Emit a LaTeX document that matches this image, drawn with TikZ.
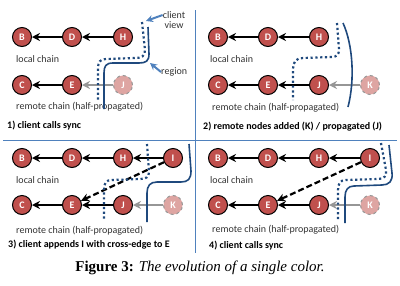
\documentclass[tikz,border=0pt]{standalone}
\usepackage{fontspec}
\setmainfont{Liberation Serif}
\newfontfamily\carl{Carlito}
\usetikzlibrary{arrows.meta}
\definecolor{nodered}{RGB}{192,80,77}
\definecolor{fadered}{RGB}{222,165,162}
\definecolor{regblue}{RGB}{31,73,125}
\definecolor{lblue}{RGB}{79,129,189}
\definecolor{arrgray}{RGB}{150,150,150}
\definecolor{txtgray}{RGB}{50,50,50}
\tikzset{
  nd/.style={circle,draw=black,line width=1pt,fill=nodered,text=white,
    font=\carl\bfseries\fontsize{10}{10}\selectfont,minimum size=19pt,inner sep=0pt},
  fnd/.style={nd,fill=fadered,draw=arrgray,dashed},
  arr/.style={draw=black,line width=2.2pt,-{Stealth[length=8pt,width=8pt]}},
  garr/.style={arr,draw=arrgray},
  darr/.style={arr,dash pattern=on 6pt off 3pt},
  region/.style={draw=regblue,line width=1.6pt},
  cview/.style={draw=regblue,line width=2.2pt,dash pattern=on 2.2pt off 2.6pt},
  lab/.style={font=\carl\fontsize{10}{11}\selectfont,text=txtgray,anchor=west,inner sep=0pt},
  plab/.style={font=\carl\bfseries\fontsize{10}{11}\selectfont,text=black,anchor=west,inner sep=0pt},
  pointer/.style={draw=lblue,line width=2pt,-{Stealth[length=7pt,width=7pt]}},
  divider/.style={draw=lblue,line width=1pt}
}
\begin{document}
\begin{tikzpicture}[x=1pt,y=-1pt]
\useasboundingbox (0,0) rectangle (400,285);
% dividers
\coordinate (vt) at (195,10); \coordinate (vb) at (195,253);
\coordinate (hl) at (3,140); \coordinate (hr) at (397,140);
\draw[divider] (vt) -- (vb);
\draw[divider] (hl) -- (hr);

% ---------- panel 1
\node[nd] (B1) at (22,37) {B};
\node[nd] (D1) at (72,37) {D};
\node[nd] (H1) at (123,37) {H};
\node[nd] (C1) at (22,85) {C};
\node[nd] (E1) at (72,85) {E};
\node[fnd] (J1) at (123,85) {J};
\draw[arr] (D1) -- (B1);
\draw[arr] (H1) -- (D1);
\draw[arr] (E1) -- (C1);
\draw[garr] (J1) -- (E1);
\node[lab] (lc1) at (16,59) {local chain};
\node[lab] (rc1) at (16,107) {remote chain (half-propagated)};
\node[plab] (p1) at (7,126) {1) client calls sync};
\draw[region] (148,27) -- (149,54) .. controls (149,61) and (146,63) .. (139,63) -- (113,63) .. controls (106,63) and (104,66) .. (104,73) -- (104,109);
\draw[cview] (142,22) -- (145,50) .. controls (145,56) and (142,58) .. (135,58) -- (106,59) .. controls (100,59) and (98,62) .. (98,69) -- (98,100);
\node[font=\carl\fontsize{10}{10}\selectfont,text=txtgray,align=center,inner sep=0pt] (cvl) at (174,20) {client\\view};
\coordinate (cvt) at (146,21);
\draw[pointer] (cvl.west) ++(0,-5) coordinate (cvs) (cvs) -- (cvt);
\node[lab] (rgl) at (161,72) {region};
\coordinate (rgt) at (150,63);
\draw[pointer] (rgl.west) -- (rgt);

% ---------- panel 2
\node[nd] (B2) at (218,37) {B};
\node[nd] (D2) at (268,37) {D};
\node[nd] (H2) at (319,37) {H};
\node[nd] (C2) at (218,85) {C};
\node[nd] (E2) at (268,85) {E};
\node[nd] (J2) at (319,85) {J};
\node[fnd] (K2) at (370,85) {K};
\draw[arr] (D2) -- (B2);
\draw[arr] (H2) -- (D2);
\draw[arr] (E2) -- (C2);
\draw[arr] (J2) -- (E2);
\draw[garr] (K2) -- (J2);
\node[lab] (lc2) at (210,59) {local chain};
\node[lab] (rc2) at (212,108) {remote chain (half-propagated)};
\node[plab] (p2) at (203,127) {2) remote nodes added (K) / propagated (J)};
\draw[region] (343,23) .. controls (353,45) and (355,80) .. (348,107);
\draw[cview] (337,23) -- (339,49) .. controls (339,55) and (337,57) .. (331,57) -- (303,58) .. controls (296,58) and (293,62) .. (293,69) -- (293,100);

% ---------- panel 3
\node[nd] (B3) at (22,158) {B};
\node[nd] (D3) at (72,158) {D};
\node[nd] (H3) at (123,158) {H};
\node[nd] (I3) at (173,158) {I};
\node[nd] (C3) at (22,205) {C};
\node[nd] (E3) at (72,205) {E};
\node[nd] (J3) at (123,205) {J};
\node[fnd] (K3) at (173,205) {K};
\draw[arr] (D3) -- (B3);
\draw[arr] (H3) -- (D3);
\draw[arr] (I3) -- (H3);
\draw[arr] (E3) -- (C3);
\draw[arr] (J3) -- (E3);
\draw[garr] (K3) -- (J3);
\draw[darr] (I3) -- (E3);
\node[lab] (lc3) at (16,180) {local chain};
\node[lab] (rc3) at (16,231) {remote chain (half-propagated)};
\node[plab] (p3) at (8,245) {3) client appends I with cross-edge to E};
\draw[region] (189,144) -- (191,171) .. controls (191,179) and (188,182) .. (181,182) -- (157,182) .. controls (150,182) and (147,186) .. (147,193) -- (147,222);
\draw[cview] (147,144) -- (149,172) .. controls (149,177) and (146,179) .. (140,179) -- (112,180) .. controls (106,180) and (104,183) .. (104,190) -- (104,220);

% ---------- panel 4
\node[nd] (B4) at (218,158) {B};
\node[nd] (D4) at (268,158) {D};
\node[nd] (H4) at (319,158) {H};
\node[nd] (I4) at (370,158) {I};
\node[nd] (C4) at (218,205) {C};
\node[nd] (E4) at (268,205) {E};
\node[nd] (J4) at (319,205) {J};
\node[fnd] (K4) at (370,205) {K};
\draw[arr] (D4) -- (B4);
\draw[arr] (H4) -- (D4);
\draw[arr] (I4) -- (H4);
\draw[arr] (E4) -- (C4);
\draw[arr] (J4) -- (E4);
\draw[garr] (K4) -- (J4);
\draw[darr] (I4) -- (E4);
\node[lab] (lc4) at (210,180) {local chain};
\node[lab] (rc4) at (212,230) {remote chain (half-propagated)};
\node[plab] (p4) at (209,246) {4) client calls sync};
\draw[region] (389,145) -- (392,173) .. controls (393,181) and (389,185) .. (382,185) -- (354,186) .. controls (348,186) and (345,190) .. (345,197) -- (345,223);
\draw[cview] (381,143) -- (386,170) .. controls (387,176) and (384,179) .. (378,179) -- (346,180) .. controls (340,180) and (338,184) .. (338,190) -- (338,219);

% caption
\node[font=\fontsize{15}{16}\selectfont,inner sep=0pt] (cap) at (200,268) {\textbf{Figure 3:} \textit{The evolution of a single color.}};
\end{tikzpicture}
\end{document}
